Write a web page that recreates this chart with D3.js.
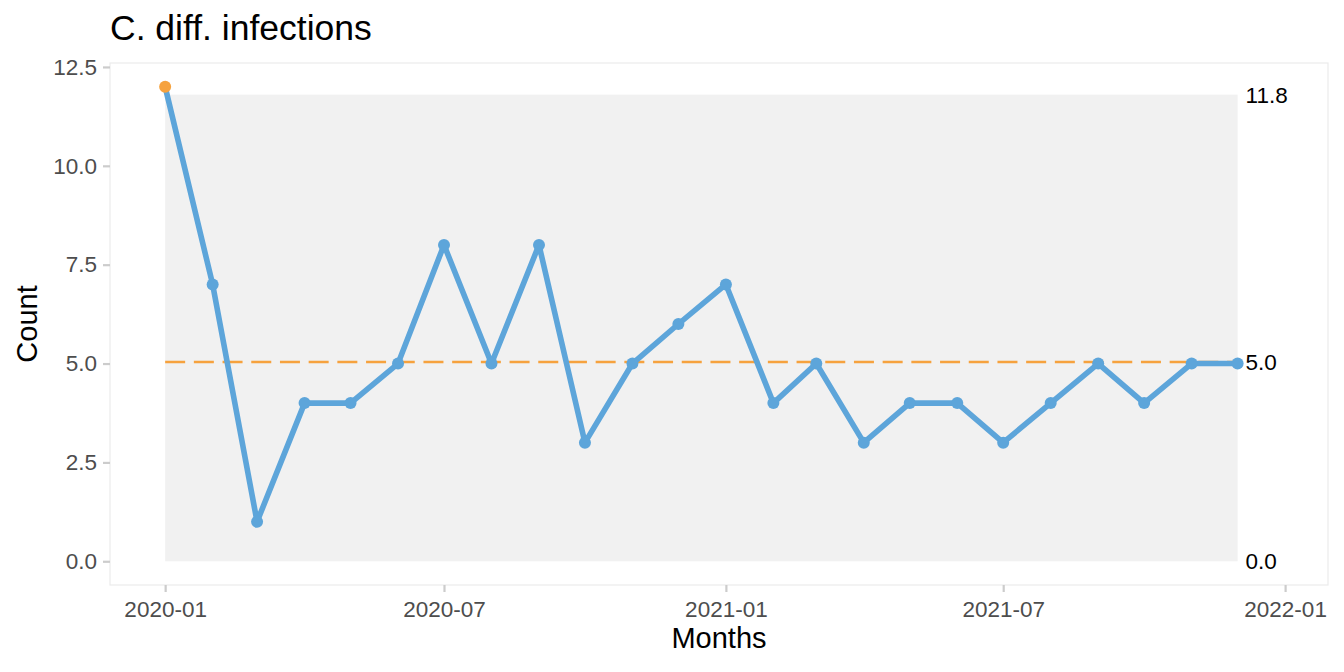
<!DOCTYPE html>
<html>
<head>
<meta charset="utf-8">
<script src="https://cdn.jsdelivr.net/npm/d3@7"></script>
<style>
  body { margin: 0; background: #fff; }
  svg { font-family: "Liberation Sans", Arial, sans-serif; }
</style>
</head>
<body>
<svg id="chart"></svg>
<script>
// monthly counts, 2020-01 .. 2021-12
var months = ["2020-01","2020-02","2020-03","2020-04","2020-05","2020-06","2020-07","2020-08","2020-09","2020-10","2020-11","2020-12",
              "2021-01","2021-02","2021-03","2021-04","2021-05","2021-06","2021-07","2021-08","2021-09","2021-10","2021-11","2021-12"];
var counts = [12, 7, 1, 4, 4, 5, 8, 5, 8, 3, 5, 6, 7, 4, 5, 3, 4, 4, 3, 4, 5, 4, 5, 5];
var xTicks = ["2020-01","2020-07","2021-01","2021-07","2022-01"];
var yTicks = [0, 2.5, 5, 7.5, 10, 12.5];
var centerLine = 5.04;
var upperLimit = 11.8;
var lowerLimit = 0;

const W = 1344, H = 672;
const margin = {top: 63, right: 16, bottom: 87, left: 110};
const width = W - margin.left - margin.right,
      height = H - margin.top - margin.bottom;

const parse = d3.timeParse("%Y-%m");
const data = months.map((m, i) => ({date: parse(m), value: counts[i]}));

const svg = d3.select("#chart").attr("width", W).attr("height", H);
const g = svg.append("g").attr("transform", `translate(${margin.left},${margin.top})`);

/** x: time scale, padded like ggplot (left 5%, right extended for the limit labels) */
const x = d3.scaleTime()
  .domain([d3.timeDay.offset(parse("2020-01"), -36), d3.timeDay.offset(parse("2020-01"), 759)])
  .range([0, width]);
const y = d3.scaleLinear().domain([-0.6, 12.6]).range([height, 0]);

// control limit band
const first = data[0].date, last = data[data.length - 1].date;
g.append("rect")
  .attr("x", x(first)).attr("width", x(last) - x(first))
  .attr("y", y(upperLimit)).attr("height", y(lowerLimit) - y(upperLimit))
  .attr("fill", "#f1f1f1");

// panel border
g.append("rect").attr("width", width).attr("height", height)
  .attr("fill", "none").attr("stroke", "#ebebeb").attr("stroke-width", 1.2);

// axes
const xAxis = g.append("g").attr("transform", `translate(0,${height})`)
  .call(d3.axisBottom(x).tickValues(xTicks.map(parse)).tickFormat(d3.timeFormat("%Y-%m")).tickSize(7).tickPadding(9));
const yAxis = g.append("g")
  .call(d3.axisLeft(y).tickValues(yTicks).tickFormat(d3.format(".1f")).tickSize(7).tickPadding(6));
[xAxis, yAxis].forEach(a => {
  a.select(".domain").remove();
  a.selectAll(".tick line").attr("stroke", "#cccccc").attr("stroke-width", 2.2);
  a.selectAll(".tick text").attr("fill", "#4d4d4d").style("font-size", "22.5px");
});

// center line
g.append("line")
  .attr("x1", x(first)).attr("x2", x(last))
  .attr("y1", y(centerLine)).attr("y2", y(centerLine))
  .attr("stroke", "#F6A23E").attr("stroke-width", 2.6).attr("stroke-dasharray", "20,8.7");

// series line
const line = d3.line().x(d => x(d.date)).y(d => y(d.value));
g.append("path").datum(data)
  .attr("fill", "none").attr("stroke", "#5DA5DA").attr("stroke-width", 5.6)
  .attr("stroke-linejoin", "round").attr("d", line);

g.selectAll(".pt").data(data).join("circle")
  .attr("class", "pt")
  .attr("cx", d => x(d.date)).attr("cy", d => y(d.value)).attr("r", 6)
  .attr("fill", d => (d.value > upperLimit || d.value < lowerLimit) ? "#F6A23E" : "#5DA5DA");

// limit labels
[upperLimit, centerLine, lowerLimit].forEach(v => {
  g.append("text")
    .attr("x", x(last) + 8).attr("y", y(v))
    .attr("dy", "0.36em")
    .style("font-size", "22.5px").attr("fill", "#000")
    .text(d3.format(".1f")(v));
});

// titles
svg.append("text").attr("x", 110).attr("y", 40)
  .style("font-size", "35.5px").attr("fill", "#000").text("C. diff. infections");
svg.append("text").attr("x", margin.left + width / 2).attr("y", 648)
  .attr("text-anchor", "middle").style("font-size", "29px").attr("fill", "#000").text("Months");
svg.append("text").attr("transform", `translate(37,${margin.top + height / 2}) rotate(-90)`)
  .attr("text-anchor", "middle").style("font-size", "29px").attr("fill", "#000").text("Count");
</script>
</body>
</html>
